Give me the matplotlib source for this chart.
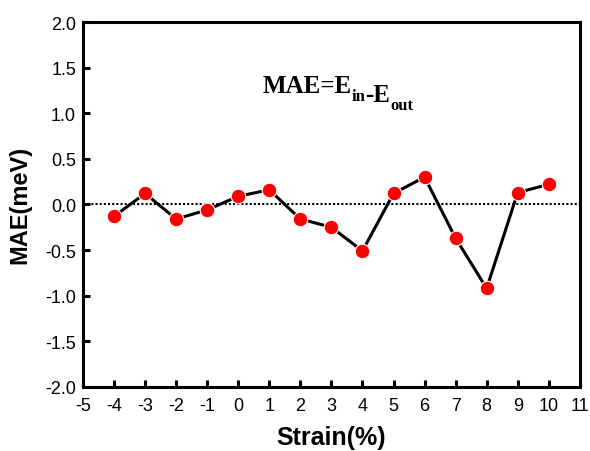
import numpy as np
import matplotlib
matplotlib.use("Agg")
import matplotlib.pyplot as plt

plt.rcParams['font.family'] = ['Liberation Sans', 'DejaVu Sans']
plt.rcParams['axes.unicode_minus'] = False

strain = [-4, -3, -2, -1, 0, 1, 2, 3, 4, 5, 6, 7, 8, 9, 10]
mae = [-0.13, 0.12, -0.16, -0.06, 0.09, 0.16, -0.16, -0.25, -0.51,
       0.12, 0.30, -0.37, -0.92, 0.13, 0.22]

xticks = list(range(-5, 12))
yticks = [-2.0, -1.5, -1.0, -0.5, 0.0, 0.5, 1.0, 1.5, 2.0]

fig = plt.figure(figsize=(5.9, 4.52), dpi=100)
ax = fig.add_axes([0.1407, 0.142, 0.842, 0.807])

ax.axhline(0, color='black', linestyle=(0, (1, 1)), linewidth=1.5, zorder=1)
ax.plot(strain, mae, '-', color='black', linewidth=2.2, zorder=2)
ax.plot(strain, mae, 'o', color='red', markersize=10.5,
        markeredgecolor='white', markeredgewidth=0.8, zorder=3)

ax.set_xlim(-5, 11)
ax.set_ylim(-2.0, 2.0)
ax.set_xticks(xticks)
ax.set_yticks(yticks)
ax.set_yticklabels(['%.1f' % v for v in yticks])

for s in ax.spines.values():
    s.set_linewidth(2.2)
ax.tick_params(direction='in', length=5, width=2.2, labelsize=13,
               top=False, right=False)
ax.tick_params(axis='x', pad=7)
ax.tick_params(axis='y', pad=5)

ax.set_xlabel('Strain(%)', fontsize=18, fontweight='bold', labelpad=8)
ax.set_ylabel('MAE(meV)', fontsize=17, fontweight='bold', labelpad=10)

# MAE=E_in-E_out, pieces chained so subscripts sit right after each E
serif = dict(family='Liberation Serif', fontweight='bold')
t1 = ax.text(0.361, 0.808, 'MAE=E', transform=ax.transAxes,
             ha='left', va='baseline', fontsize=18, **serif)
t2 = ax.annotate('in', xy=(1, 0), xycoords=t1, xytext=(0, -2),
                 textcoords='offset points', ha='left', va='baseline',
                 fontsize=12, **serif)
t3 = ax.annotate('-E', xy=(1, 0), xycoords=t2, xytext=(0, 2),
                 textcoords='offset points', ha='left', va='baseline',
                 fontsize=18, **serif)
ax.annotate('out', xy=(1, 0), xycoords=t3, xytext=(0, -2),
            textcoords='offset points', ha='left', va='baseline',
            fontsize=12, **serif)

fig.savefig('out.png', dpi=100)
